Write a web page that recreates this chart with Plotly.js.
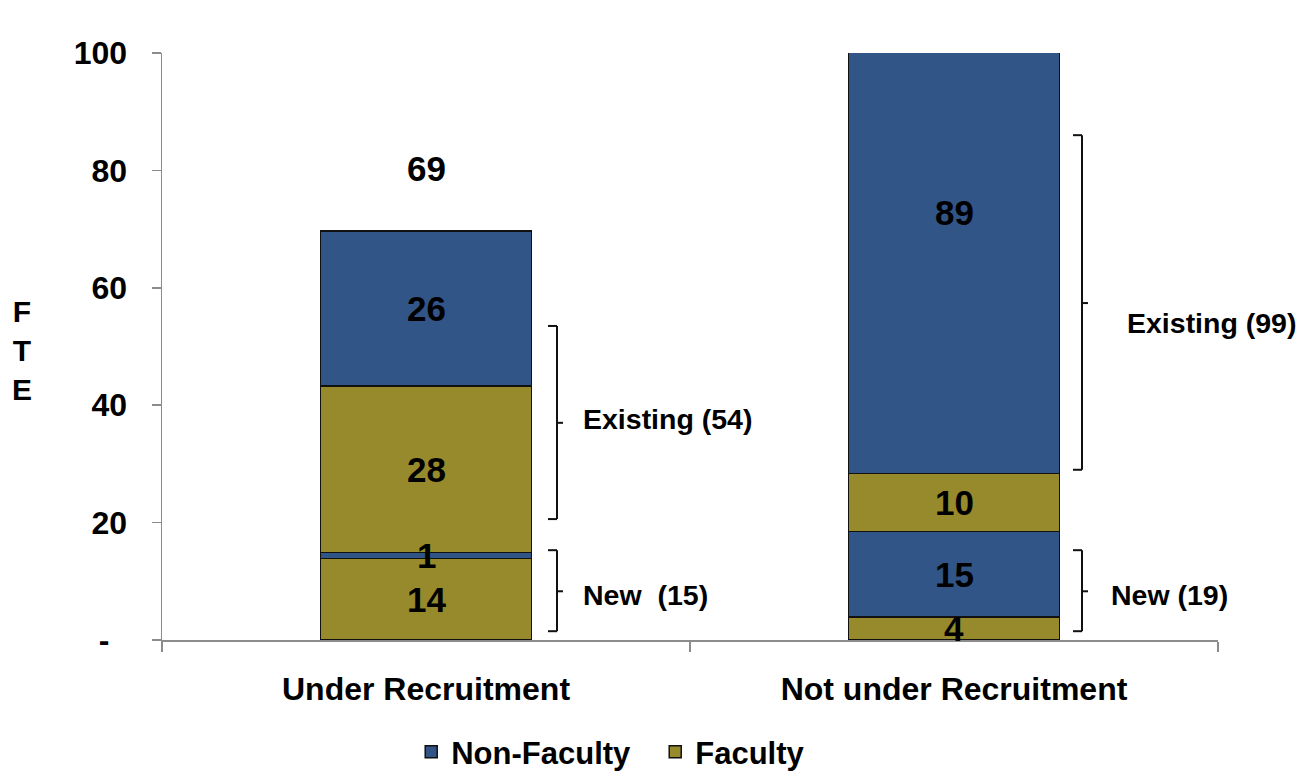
<!DOCTYPE html>
<html>
<head>
<meta charset="utf-8">
<script src="https://cdn.plot.ly/plotly-3.0.1.min.js"></script>
<style>html,body{margin:0;padding:0;background:#fff;}#chart{width:1304px;height:771px;}</style>
</head>
<body>
<div id="chart"></div>
<script>
// ---- data (FTE; labels show rounded values) ----
const categories = ['Under Recruitment', 'Not under Recruitment'];
const facultyNew = [13.9, 3.9];
const nonFacultyNew = [1.0, 14.6];
const facultyExisting = [28.4, 9.9];
const nonFacultyExisting = [26.4, 89];
const yTickVals = [0, 20, 40, 60, 80, 100];
const yTickText = ['-\u00a0\u00a0', '20', '40', '60', '80', '100'];

// ---- style ----
const BLUE = '#315587';
const OLIVE = '#978A2C';
const FONT = 'Liberation Sans, Arial, Helvetica, sans-serif';
const AXIS = '#8c8c8c';
const outline = {color: '#111', width: 1.5};

const stackOrder = [
  {name: 'Faculty', vals: facultyNew, color: OLIVE, show: true, rank: 2},
  {name: 'Non-Faculty', vals: nonFacultyNew, color: BLUE, show: true, rank: 1},
  {name: 'Faculty', vals: facultyExisting, color: OLIVE, show: false, rank: 2},
  {name: 'Non-Faculty', vals: nonFacultyExisting, color: BLUE, show: false, rank: 1}
];

const traces = stackOrder.map(s => ({
  type: 'bar',
  x: categories,
  y: s.vals,
  name: s.name,
  legendgroup: s.name,
  showlegend: s.show,
  legendrank: s.rank,
  width: 0.4,
  marker: {color: s.color, line: outline},
  hoverinfo: 'x+y+name'
}));

const R = v => Math.round(v);
const annotations = [];
const shapes = [];
const totals = categories.map((c, i) => stackOrder.reduce((a, s) => a + R(s.vals[i]), 0));

// segment labels
categories.forEach((c, i) => {
  let base = 0;
  stackOrder.forEach(s => {
    const v = s.vals[i];
    annotations.push({
      x: c, y: base + v / 2, xref: 'x', yref: 'y', text: String(R(v)), showarrow: false,
      font: {family: FONT, size: 35, color: '#000', weight: 700}
    });
    base += v;
  });
  // totals
  annotations.push({
    x: c, y: Math.min(totals[i] + 11.4, 104.8), xref: 'x', yref: 'y', text: String(totals[i]),
    showarrow: false, font: {family: FONT, size: 35, color: '#000', weight: 700}
  });
});

// brackets (hand-placed annotation layout, like the original)
const brackets = [
  {cat: 0, y0: 1.5, y1: 15.3, ym: 8.3, off: 131, label: 'New  (' + (R(facultyNew[0]) + R(nonFacultyNew[0])) + ')', lx: 155, ly: 7.7},
  {cat: 0, y0: 20.6, y1: 53.5, ym: 37.0, off: 131, label: 'Existing (' + (R(facultyExisting[0]) + R(nonFacultyExisting[0])) + ')', lx: 155, ly: 37.6},
  {cat: 1, y0: 1.5, y1: 15.3, ym: 8.3, off: 128, label: 'New (' + (R(facultyNew[1]) + R(nonFacultyNew[1])) + ')', lx: 155, ly: 7.7},
  {cat: 1, y0: 29.0, y1: 86.0, ym: 57.4, off: 128, label: 'Existing (' + (R(facultyExisting[1]) + R(nonFacultyExisting[1])) + ')', lx: 171, ly: 54.0}
];
brackets.forEach(b => {
  const xa = b.cat;
  const seg = (px0, px1, ya, yb) => shapes.push({
    type: 'line', xref: 'x', yref: 'y', xsizemode: 'pixel', xanchor: xa,
    x0: px0, x1: px1, y0: ya, y1: yb, line: {color: '#111', width: 2}
  });
  seg(b.off, b.off, b.y0, b.y1);
  seg(b.off - 9, b.off, b.y0, b.y0);
  seg(b.off - 9, b.off, b.y1, b.y1);
  seg(b.off, b.off + 6, b.ym, b.ym);
  annotations.push({
    x: xa, y: b.ly, xref: 'x', yref: 'y', xshift: b.lx, xanchor: 'left', text: b.label,
    showarrow: false, font: {family: FONT, size: 28.5, color: '#000', weight: 700}
  });
});

// y title as stacked letters
annotations.push({
  xref: 'paper', yref: 'paper', x: -0.1326, y: 0.494, xanchor: 'center', yanchor: 'middle',
  text: 'F<br>T<br>E', showarrow: false,
  font: {family: FONT, size: 30, color: '#000', weight: 700}
});

const layout = {
  width: 1304, height: 771,
  margin: {l: 162, r: 86, t: 53, b: 131, pad: 0, autoexpand: false},
  paper_bgcolor: '#fff', plot_bgcolor: '#fff',
  barmode: 'stack',
  font: {family: FONT, color: '#000', weight: 700},
  showlegend: true,
  legend: {
    orientation: 'h', x: 0.236, xanchor: 'left', y: -0.191, yanchor: 'middle',
    font: {family: FONT, size: 31, color: '#000', weight: 700},
    entrywidth: 199, entrywidthmode: 'pixels', traceorder: 'normal'
  },
  xaxis: {
    type: 'category', range: [-0.5, 1.5], showline: true, linecolor: AXIS, linewidth: 1.5,
    ticks: 'outside', tickson: 'boundaries', ticklen: 10, tickcolor: AXIS, tickwidth: 1.5,
    showgrid: false, zeroline: false, ticklabelstandoff: 20,
    tickfont: {family: FONT, size: 32, color: '#000', weight: 700}
  },
  yaxis: {
    range: [0, 100], showline: true, linecolor: AXIS, linewidth: 1.5,
    ticks: 'outside', ticklen: 9, tickcolor: AXIS, tickwidth: 1.5,
    tickvals: yTickVals, ticktext: yTickText,
    showgrid: false, zeroline: false, ticklabelstandoff: 18,
    tickfont: {family: FONT, size: 32, color: '#000', weight: 700}
  },
  shapes: shapes,
  annotations: annotations
};

Plotly.newPlot('chart', traces, layout, {displayModeBar: false, staticPlot: true});
</script>
</body>
</html>
